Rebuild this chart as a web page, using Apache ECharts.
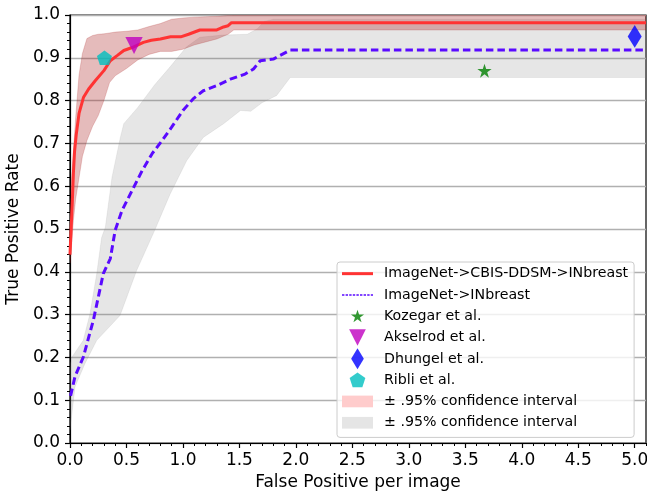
<!DOCTYPE html>
<html><head><meta charset="utf-8">
<script src="https://cdn.jsdelivr.net/npm/echarts@6/dist/echarts.min.js"></script>
<style>html,body{margin:0;padding:0;background:#fff}#c{width:647px;height:493px}</style>
</head><body><div id="c"></div>
<script>
// ---- data ----
const redX = [0, 0.01, 0.02, 0.03, 0.04, 0.055, 0.08, 0.12, 0.165, 0.225, 0.3, 0.357, 0.417, 0.476, 0.55, 0.65, 0.72, 0.8, 0.89, 0.98, 1.05, 1.15, 1.3, 1.36, 1.4, 1.43, 5.1];
const redY = [0.44, 0.50, 0.56, 0.63, 0.68, 0.72, 0.77, 0.808, 0.827, 0.847, 0.87, 0.893, 0.905, 0.917, 0.924, 0.936, 0.941, 0.944, 0.949, 0.949, 0.955, 0.965, 0.965, 0.972, 0.975, 0.982, 0.982];

const blueX = [0.005, 0.044, 0.118, 0.207, 0.295, 0.357, 0.40, 0.46, 0.55, 0.64, 0.727, 0.816, 0.9, 1.0, 1.09, 1.18, 1.30, 1.42, 1.55, 1.625, 1.684, 1.80, 1.95, 5.1];
const blueY = [0.11, 0.155, 0.201, 0.287, 0.396, 0.431, 0.497, 0.543, 0.59, 0.637, 0.676, 0.707, 0.738, 0.777, 0.804, 0.823, 0.835, 0.85, 0.862, 0.874, 0.893, 0.897, 0.918, 0.918];

const redBandX     = [0, 0.01, 0.03, 0.05, 0.08, 0.11, 0.15, 0.2, 0.25, 0.3, 0.35, 0.4, 0.5, 0.6, 0.7, 0.8, 0.9, 1.0, 1.1, 1.2, 1.3, 1.4, 1.45, 5.1];
const redBandUpper = [0.46, 0.60, 0.68, 0.76, 0.86, 0.91, 0.945, 0.952, 0.955, 0.956, 0.958, 0.96, 0.962, 0.965, 0.973, 0.98, 0.99, 0.993, 0.995, 0.996, 0.997, 0.999, 1.0, 1.0];
const redBandLower = [0.42, 0.45, 0.52, 0.57, 0.62, 0.67, 0.707, 0.74, 0.765, 0.80, 0.842, 0.858, 0.875, 0.895, 0.908, 0.915, 0.915, 0.92, 0.93, 0.937, 0.944, 0.955, 0.965, 0.965];

const grayUpperX = [0, 0.015, 0.118, 0.177, 0.237, 0.28, 0.313, 0.372, 0.446, 0.476, 0.6, 0.75, 0.89, 1.03, 1.15, 1.35, 1.57, 1.66, 1.72, 1.8, 5.1];
const grayUpperY = [0.18, 0.2, 0.24, 0.302, 0.396, 0.48, 0.504, 0.621, 0.714, 0.746, 0.784, 0.837, 0.88, 0.925, 0.948, 0.953, 0.955, 0.968, 0.985, 0.99, 0.99];
const grayLowerX = [0, 0.044, 0.133, 0.237, 0.443, 0.59, 0.75, 0.887, 1.034, 1.18, 1.36, 1.51, 1.6, 1.7, 1.83, 1.95, 5.1];
const grayLowerY = [0.03, 0.131, 0.186, 0.24, 0.298, 0.403, 0.497, 0.582, 0.66, 0.714, 0.746, 0.777, 0.775, 0.795, 0.812, 0.854, 0.854];

const kozegar  = [[3.67, 0.87]];
const akselrod = [[0.567, 0.929]];
const dhungel  = [[5.0, 0.95]];
const ribli    = [[0.305, 0.90]];

const seriesNames = ['ImageNet->CBIS-DDSM->INbreast', 'ImageNet->INbreast', 'Kozegar et al.', 'Akselrod et al.', 'Dhungel et al.', 'Ribli et al.', 'ci-red', 'ci-gray'];
const ciLabel = '\u00b1 .95% confidence interval';
const xAxisName = 'False Positive per image';
const yAxisName = 'True Positive Rate';

// ---- helpers ----
const zip = (xs, ys) => xs.map((x, i) => [x, ys[i]]);
function poly(cx, cy, pts) { return pts.map((p, i) => (i ? 'L' : 'M') + (cx + p[0]).toFixed(2) + ',' + (cy + p[1]).toFixed(2)).join('') + 'Z'; }
function starPts(R, r) { const a = []; for (let k = 0; k < 10; k++) { const t = -Math.PI / 2 + k * Math.PI / 5; const q = k % 2 ? r : R; a.push([q * Math.cos(t), q * Math.sin(t)]); } return a; }
function ngonPts(R, n) { const a = []; for (let k = 0; k < n; k++) { const t = -Math.PI / 2 + k * 2 * Math.PI / n; a.push([R * Math.cos(t), R * Math.sin(t)]); } return a; }
const STAR = 'path://' + poly(0, 0, starPts(10, 3.82));
const PENT = 'path://' + poly(0, 0, ngonPts(10, 5));
const TRI_DOWN = 'path://M0,0L10,0L5,10Z';
const THIN_DIAMOND = 'path://M5,0L10,10L5,20L0,10Z';

// legend icons share a frame so they keep their own pixel size
const IW = 37, IH = 21.3, CY = IH / 2, CX = 15.5;
const FRAME = 'M0,0M' + IW + ',' + IH;
const L_RED = 'path://' + FRAME + 'M0,' + (CY - 1.5) + 'h31v3h-31z';
let dashes = ''; for (let x = 0; x < 31; x += 3.6) { dashes += 'M' + x.toFixed(2) + ',' + (CY - 0.75) + 'h' + Math.min(2.4, 31 - x).toFixed(2) + 'v1.5h-' + Math.min(2.4, 31 - x).toFixed(2) + 'z'; }
const L_BLUE = 'path://' + FRAME + dashes;
const L_STAR = 'path://' + FRAME + poly(CX, CY + 0.4, starPts(6.9, 2.64));
const L_TRI = 'path://' + FRAME + poly(0, 0, [[CX - 8.35, CY - 8.3], [CX + 8.35, CY - 8.3], [CX, CY + 8.3]]);
const L_DIA = 'path://' + FRAME + poly(0, 0, [[CX, CY - 10.5], [CX + 6.35, CY], [CX, CY + 10.5], [CX - 6.35, CY]]);
const L_PENT = 'path://' + FRAME + poly(CX, CY + 0.5, ngonPts(8.25, 5));
const L_PATCH = 'path://' + FRAME + 'M0,' + (CY - 5.85) + 'h31v11.7h-31z';

function band(name, upper, lower, fill, stroke, z) {
  const pts = upper.concat(lower.slice().reverse());
  return {
    type: 'custom', name: name, z: z, coordinateSystem: 'cartesian2d', xAxisIndex: 0, yAxisIndex: 0,
    data: pts, encode: { x: 0, y: 1 }, silent: true, clip: true,
    renderItem: function (params, api) {
      if (params.dataIndex !== 0) return null;
      return { type: 'polygon', shape: { points: pts.map(p => api.coord(p)) }, style: { fill: fill, stroke: stroke, lineWidth: 1 } };
    }
  };
}

const FONT = 'DejaVu Sans';
const chart = echarts.init(document.getElementById('c'), null, { renderer: 'canvas' });
chart.setOption({
  animation: false,
  backgroundColor: '#ffffff',
  grid: { left: 70, top: 15, width: 576, height: 428, containLabel: false, outerBoundsMode: 'none',
          show: true, borderColor: '#000', borderWidth: 1.2, backgroundColor: 'transparent' },
  xAxis: [{
    type: 'value', min: 0, max: 5.1, interval: 0.5, position: 'bottom',
    name: xAxisName, nameLocation: 'middle', nameGap: 31,
    nameTextStyle: { fontFamily: FONT, fontSize: 17, color: '#000' },
    axisLine: { show: true, onZero: false, lineStyle: { color: '#000', width: 1.2 } },
    axisTick: { show: true, length: 5, lineStyle: { color: '#000', width: 1.2 } },
    axisLabel: { margin: 9, fontFamily: FONT, fontSize: 17, color: '#000', showMaxLabel: false, formatter: v => v.toFixed(1) },
    splitLine: { show: false }
  }, {
    type: 'value', min: 0, max: 5.1, interval: 0.1, position: 'bottom', gridIndex: 0,
    axisLine: { show: false }, axisLabel: { show: false }, splitLine: { show: false },
    axisTick: { show: true, length: 3, lineStyle: { color: '#000', width: 1 } }
  }],
  yAxis: {
    type: 'value', min: 0, max: 1, interval: 0.1,
    name: yAxisName, nameLocation: 'middle', nameGap: 41,
    nameTextStyle: { fontFamily: FONT, fontSize: 17, color: '#000' },
    axisLine: { show: true, onZero: false, lineStyle: { color: '#000', width: 1.2 } },
    axisTick: { show: true, length: 5, lineStyle: { color: '#000', width: 1.2 } },
    minorTick: { show: true, splitNumber: 5, length: 3, lineStyle: { color: '#000', width: 1 } },
    axisLabel: { margin: 10, fontFamily: FONT, fontSize: 17, color: '#000', formatter: v => v.toFixed(1) },
    splitLine: { show: true, lineStyle: { color: '#b0b0b0', width: 1.3 } }
  },
  legend: {
    orient: 'vertical', left: 337, top: 262, padding: [1, 6, 4, 5],
    itemWidth: IW, itemHeight: IH, itemGap: 0, selectedMode: false,
    backgroundColor: 'rgba(255,255,255,0.8)', borderColor: '#cccccc', borderWidth: 1, borderRadius: 3,
    itemStyle: { borderWidth: 0 },
    textStyle: { fontFamily: FONT, fontSize: 14.2, color: '#000' },
    formatter: n => (n.indexOf('ci-') === 0 ? ciLabel : n),
    data: [
      { name: seriesNames[0], icon: L_RED, itemStyle: { color: '#ff3333' } },
      { name: seriesNames[1], icon: L_BLUE, itemStyle: { color: '#5a0aff' } },
      { name: seriesNames[2], icon: L_STAR, itemStyle: { color: '#008000' } },
      { name: seriesNames[3], icon: L_TRI, itemStyle: { color: '#bf00bf' } },
      { name: seriesNames[4], icon: L_DIA, itemStyle: { color: '#0000ff' } },
      { name: seriesNames[5], icon: L_PENT, itemStyle: { color: '#00bfbf' } },
      { name: seriesNames[6], icon: L_PATCH, itemStyle: { color: '#ffcccc' } },
      { name: seriesNames[7], icon: L_PATCH, itemStyle: { color: '#e5e5e5' } }
    ]
  },
  series: [
    band(seriesNames[7], zip(grayUpperX, grayUpperY), zip(grayLowerX, grayLowerY), 'rgba(128,128,128,0.2)', 'rgba(128,128,128,0.12)', 1),
    band(seriesNames[6], zip(redBandX, redBandUpper), zip(redBandX, redBandLower), 'rgba(170,30,30,0.3)', 'rgba(170,30,30,0.2)', 2),
    { type: 'line', name: seriesNames[0], z: 4, data: zip(redX, redY), symbol: 'none', showSymbol: false,
      lineStyle: { color: '#ff3333', width: 3 }, itemStyle: { color: '#ff3333' } },
    { type: 'line', name: seriesNames[1], z: 4, data: zip(blueX, blueY), symbol: 'none', showSymbol: false,
      lineStyle: { color: '#5a0aff', width: 3, type: [7.5, 4] }, itemStyle: { color: '#5a0aff' } },
    { type: 'scatter', name: seriesNames[2], z: 5, data: kozegar, symbol: STAR, symbolSize: [14.3, 14], itemStyle: { color: '#008000' } },
    { type: 'scatter', name: seriesNames[3], z: 5, data: akselrod, symbol: TRI_DOWN, symbolSize: [17.3, 17], itemStyle: { color: '#bf00bf' } },
    { type: 'scatter', name: seriesNames[4], z: 5, data: dhungel, symbol: THIN_DIAMOND, symbolSize: [14, 22.7], itemStyle: { color: '#0000ff' } },
    { type: 'scatter', name: seriesNames[5], z: 5, data: ribli, symbol: PENT, symbolSize: [15, 14.5], itemStyle: { color: '#00bfbf' } }
  ]
});
</script></body></html>
